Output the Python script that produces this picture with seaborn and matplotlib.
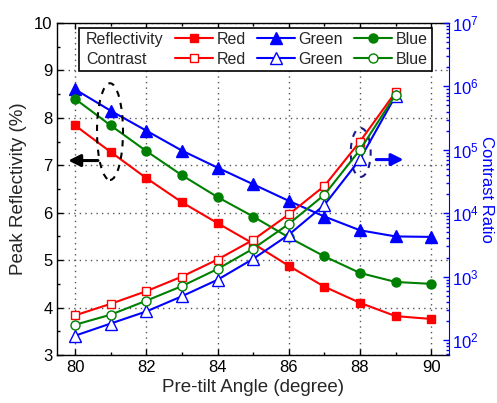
import matplotlib
matplotlib.use('Agg')
import matplotlib.pyplot as plt
import seaborn as sns
from matplotlib.lines import Line2D
from matplotlib.patches import Ellipse
from matplotlib.offsetbox import DrawingArea
from matplotlib.ticker import MultipleLocator, LogLocator, NullFormatter

sns.set_style('ticks')
plt.rcParams['font.family'] = ['Liberation Sans', 'DejaVu Sans']
plt.rcParams['mathtext.default'] = 'regular'

# ---- data ----
angles = [80, 81, 82, 83, 84, 85, 86, 87, 88, 89, 90]
refl_red = [7.84, 7.28, 6.73, 6.22, 5.78, 5.35, 4.88, 4.44, 4.10, 3.82, 3.76]
refl_green = [8.60, 8.15, 7.73, 7.31, 6.95, 6.60, 6.25, 5.92, 5.63, 5.50, 5.49]
refl_blue = [8.40, 7.84, 7.30, 6.79, 6.33, 5.92, 5.48, 5.08, 4.73, 4.54, 4.50]

cr_angles = [80, 81, 82, 83, 84, 85, 86, 87, 88, 89]
cr_red = [245, 372, 589, 1000, 1860, 3800, 9550, 26900, 135000, 813000]
cr_green = [117, 182, 282, 490, 891, 1905, 4570, 13500, 70800, 708000]
cr_blue = [174, 251, 417, 708, 1318, 2754, 6760, 19500, 100000, 741000]

RED = '#FF0000'
BLUE = '#0000FF'
GREEN = '#008000'

MS = {'s': 6, '^': 8, 'o': 6.5}

fig = plt.figure(figsize=(4.97, 4.03), dpi=100)
ax = fig.add_axes([0.1153, 0.1191, 0.7881, 0.8238])
ax2 = ax.twinx()

lw = 1.5
# reflectivity (filled)
for ys, c, m in [(refl_red, RED, 's'), (refl_green, BLUE, '^'), (refl_blue, GREEN, 'o')]:
    sns.lineplot(x=angles, y=ys, ax=ax, color=c, marker=m, markersize=MS[m],
                 linewidth=lw, markeredgecolor=c, markerfacecolor=c,
                 markeredgewidth=1.0)
# contrast (hollow)
for ys, c, m in [(cr_red, RED, 's'), (cr_green, BLUE, '^'), (cr_blue, GREEN, 'o')]:
    sns.lineplot(x=cr_angles, y=ys, ax=ax2, color=c, marker=m, markersize=MS[m],
                 linewidth=lw, markeredgecolor=c, markerfacecolor='white',
                 markeredgewidth=1.0)

# ---- left axis ----
ax.set_xlim(79.5, 90.5)
ax.set_ylim(3, 10)
ax.xaxis.set_major_locator(MultipleLocator(2))
ax.xaxis.set_minor_locator(MultipleLocator(1))
ax.yaxis.set_major_locator(MultipleLocator(1))
ax.yaxis.set_minor_locator(MultipleLocator(0.5))
ax.tick_params(which='both', direction='in', top=True, right=False,
               labelsize=12, colors='black')
ax.tick_params(which='major', length=4, width=1)
ax.tick_params(which='minor', length=2.5, width=1)
ax.set_xlabel('Pre-tilt Angle (degree)', fontsize=13.5, labelpad=3)
ax.set_ylabel('Peak Reflectivity (%)', fontsize=13.5, labelpad=5)
ax.grid(True, which='major', linestyle=(0, (1, 3)), color='#555555', linewidth=1.0)
for s in ['left', 'bottom', 'top']:
    ax.spines[s].set_color('black')
    ax.spines[s].set_linewidth(1.0)
ax.spines['right'].set_visible(False)

# ---- right axis ----
ax2.set_yscale('log')
ax2.set_ylim(58, 1e7)
ax2.yaxis.set_major_locator(LogLocator(base=10, numticks=10))
ax2.yaxis.set_minor_locator(LogLocator(base=10, subs=range(2, 10), numticks=10))
ax2.yaxis.set_minor_formatter(NullFormatter())
ax2.tick_params(which='both', direction='in', colors=BLUE, labelsize=12, pad=2)
ax2.tick_params(which='major', length=4, width=1)
ax2.tick_params(which='minor', length=2, width=1)
ax2.set_ylabel('Contrast Ratio', fontsize=12, color=BLUE, rotation=270,
               va='bottom', labelpad=0)
ax2.spines['right'].set_color(BLUE)
for s in ['left', 'top', 'bottom']:
    ax2.spines[s].set_visible(False)

# ---- annotations ----
ax.add_patch(Ellipse((80.98, 7.71), 0.73, 2.04, fill=False, edgecolor='black',
                     linestyle=(0, (3, 3)), linewidth=1.5, zorder=5))
ax.annotate('', xy=(79.73, 7.10), xytext=(80.72, 7.10),
            arrowprops=dict(arrowstyle='-|>', color='black', lw=2.2,
                            mutation_scale=18), zorder=6)
ax.add_patch(Ellipse((88.02, 7.27), 0.56, 1.03, fill=False, edgecolor='#1a1a8c',
                     linestyle=(0, (3, 3)), linewidth=1.5, zorder=5))
ax.annotate('', xy=(89.30, 7.12), xytext=(88.38, 7.12),
            arrowprops=dict(arrowstyle='-|>', color=BLUE, lw=2.2,
                            mutation_scale=18), zorder=6)

# ---- legend ----
def h(c, m, fc):
    return Line2D([], [], color=c, marker=m, markersize=MS[m], linewidth=lw,
                  markeredgecolor=c, markerfacecolor=fc, markeredgewidth=1.0)

handles = [Line2D([], [], linestyle='none'), Line2D([], [], linestyle='none'),
           h(RED, 's', RED), h(RED, 's', 'white'),
           h(BLUE, '^', BLUE), h(BLUE, '^', 'white'),
           h(GREEN, 'o', GREEN), h(GREEN, 'o', 'white')]
labels = ['Reflectivity', 'Contrast', 'Red', 'Red', 'Green', 'Green', 'Blue', 'Blue']
leg = ax2.legend(handles, labels, ncol=4, loc='upper left',
                 bbox_to_anchor=(0.0554, 0.985), borderaxespad=0,
                 fontsize=11.5, handlelength=2.4, handletextpad=0.2,
                 columnspacing=0.7, labelspacing=0.3, borderpad=0.25,
                 fancybox=False, framealpha=1, edgecolor='black')
leg.get_frame().set_linewidth(1.2)
das = leg.findobj(DrawingArea)
das[0].width = 0
das[1].width = 0

fig.savefig('out.png', dpi=100)
